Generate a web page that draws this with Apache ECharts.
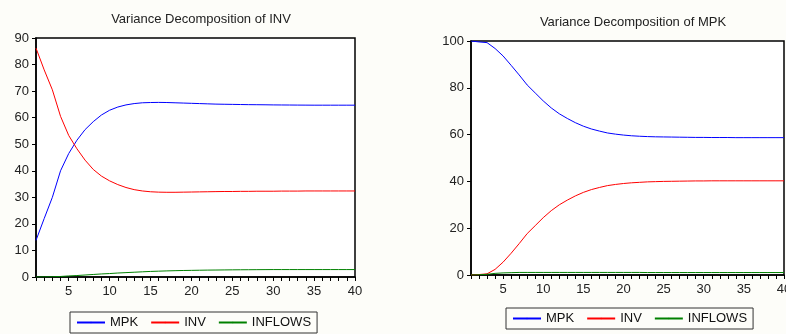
<!DOCTYPE html>
<html><head><meta charset="utf-8">
<script src="https://cdn.jsdelivr.net/npm/echarts@6/dist/echarts.min.js"></script>
<style>html,body{margin:0;padding:0;background:#fdfdf9;}#c{width:786px;height:334px;}</style>
</head><body><div id="c"></div>
<script>
var periods = [];
for (var i = 1; i <= 40; i++) periods.push(i);

var seriesNames = ['MPK', 'INV', 'INFLOWS'];
var titles = ['Variance Decomposition of INV', 'Variance Decomposition of MPK'];

// Variance decomposition of INV
var invMPK = [13.8,22,30,40,46.5,51.5,55.5,58.5,61,62.8,64,64.8,65.3,65.6,65.7,65.75,65.7,65.6,65.5,65.4,65.3,65.2,65.1,65.05,65,64.95,64.9,64.88,64.85,64.8,64.78,64.76,64.74,64.72,64.7,64.7,64.7,64.7,64.7,64.7];
var invINV = [86.2,78,70.5,60.5,53.3,48.3,44,40.5,38,36.2,34.8,33.7,32.9,32.4,32.1,31.95,31.9,31.9,31.95,32.0,32.05,32.1,32.15,32.2,32.2,32.25,32.25,32.3,32.3,32.3,32.35,32.35,32.35,32.4,32.4,32.4,32.4,32.4,32.4,32.4];
var invINFLOWS = [0,0.05,0.1,0.2,0.4,0.55,0.75,0.95,1.15,1.3,1.5,1.65,1.8,1.95,2.1,2.2,2.3,2.38,2.45,2.5,2.55,2.6,2.63,2.66,2.7,2.72,2.74,2.76,2.78,2.8,2.8,2.8,2.8,2.8,2.8,2.8,2.8,2.8,2.8,2.8];

// Variance decomposition of MPK
var mpkMPK = [100,99.6,99.3,96.8,93.6,89.6,85.5,81.2,77.8,74.4,71.4,68.9,66.9,65.1,63.6,62.4,61.5,60.7,60.2,59.8,59.5,59.3,59.15,59.05,59.0,58.95,58.9,58.85,58.8,58.8,58.75,58.75,58.75,58.7,58.7,58.7,58.7,58.7,58.7,58.7];
var mpkINV = [0,0.2,0.5,2.4,5.5,9.3,13.4,17.7,21.1,24.5,27.5,30.0,32.0,33.8,35.3,36.5,37.4,38.2,38.7,39.1,39.4,39.6,39.8,39.9,40.0,40.05,40.1,40.15,40.2,40.2,40.25,40.25,40.25,40.25,40.25,40.25,40.25,40.25,40.25,40.25];
var mpkINFLOWS = [0,0.1,0.3,0.7,0.9,1.0,1.1,1.1,1.1,1.1,1.1,1.1,1.1,1.1,1.1,1.1,1.1,1.1,1.1,1.1,1.1,1.1,1.05,1.05,1.05,1.05,1.05,1.05,1.05,1.05,1.05,1.05,1.05,1.05,1.05,1.05,1.05,1.05,1.05,1.05];

var colors = ['#0000ff', '#ff0000', '#008000'];
var FONT = 'Liberation Sans, Arial, sans-serif';

function pairs(vals) { return periods.map(function (p, i) { return [p, vals[i]]; }); }

function xAxisFor(gi) {
  return {
    type: 'value', gridIndex: gi, min: 1, max: 40, interval: 1,
    axisLine: { lineStyle: { color: '#000', width: 1.5 } },
    axisTick: { show: true, length: 4, lineStyle: { color: '#000' } },
    axisLabel: { color: '#222', fontSize: 13, fontFamily: FONT, margin: 8, hideOverlap: false,
      formatter: function (v) { return v % 5 === 0 ? String(v) : ''; } },
    splitLine: { show: false }
  };
}
function yAxisFor(gi, max, interval) {
  return {
    type: 'value', gridIndex: gi, min: 0, max: max, interval: interval,
    axisLine: { show: true, lineStyle: { color: '#000', width: 1.5 } },
    axisTick: { show: true, length: 4, lineStyle: { color: '#000' } },
    axisLabel: { color: '#222', fontSize: 13, fontFamily: FONT, margin: 7 },
    splitLine: { show: false }
  };
}
function lineSeries(name, data, xi, color) {
  return { name: name, type: 'line', xAxisIndex: xi, yAxisIndex: xi, data: pairs(data),
    symbol: 'none', smooth: false, lineStyle: { color: color, width: 1 }, itemStyle: { color: color } };
}
function legendFor(left, top) {
  return {
    left: left, top: top, data: seriesNames.slice(), itemWidth: 28, itemHeight: 2, itemGap: 12,
    borderColor: '#333', borderWidth: 1, padding: [4, 6, 4, 6],
    textStyle: { fontSize: 13, fontFamily: FONT, color: '#111' }
  };
}

var chart = echarts.init(document.getElementById('c'));
chart.setOption({
  animation: false,
  backgroundColor: '#fdfdf9',
  title: [
    { text: titles[0], left: 196, top: 8, textAlign: 'center', textStyle: { fontSize: 13, fontWeight: 'normal', fontFamily: FONT, color: '#222' } },
    { text: titles[1], left: 628, top: 11, textAlign: 'center', textStyle: { fontSize: 13, fontWeight: 'normal', fontFamily: FONT, color: '#222' } }
  ],
  legend: [legendFor(70, 312), legendFor(506, 308)],
  grid: [
    { left: 36, right: 431, top: 38, bottom: 57, show: true, backgroundColor: '#ffffff', borderColor: '#000', borderWidth: 1.5, outerBoundsMode: 'none', containLabel: false },
    { left: 471, right: 2, top: 41, bottom: 59, show: true, backgroundColor: '#ffffff', borderColor: '#000', borderWidth: 1.5, outerBoundsMode: 'none', containLabel: false }
  ],
  xAxis: [xAxisFor(0), xAxisFor(1)],
  yAxis: [yAxisFor(0, 90, 10), yAxisFor(1, 100, 20)],
  series: [
    lineSeries('MPK', invMPK, 0, colors[0]),
    lineSeries('INV', invINV, 0, colors[1]),
    lineSeries('INFLOWS', invINFLOWS, 0, colors[2]),
    lineSeries('MPK', mpkMPK, 1, colors[0]),
    lineSeries('INV', mpkINV, 1, colors[1]),
    lineSeries('INFLOWS', mpkINFLOWS, 1, colors[2])
  ]
});
</script></body></html>
